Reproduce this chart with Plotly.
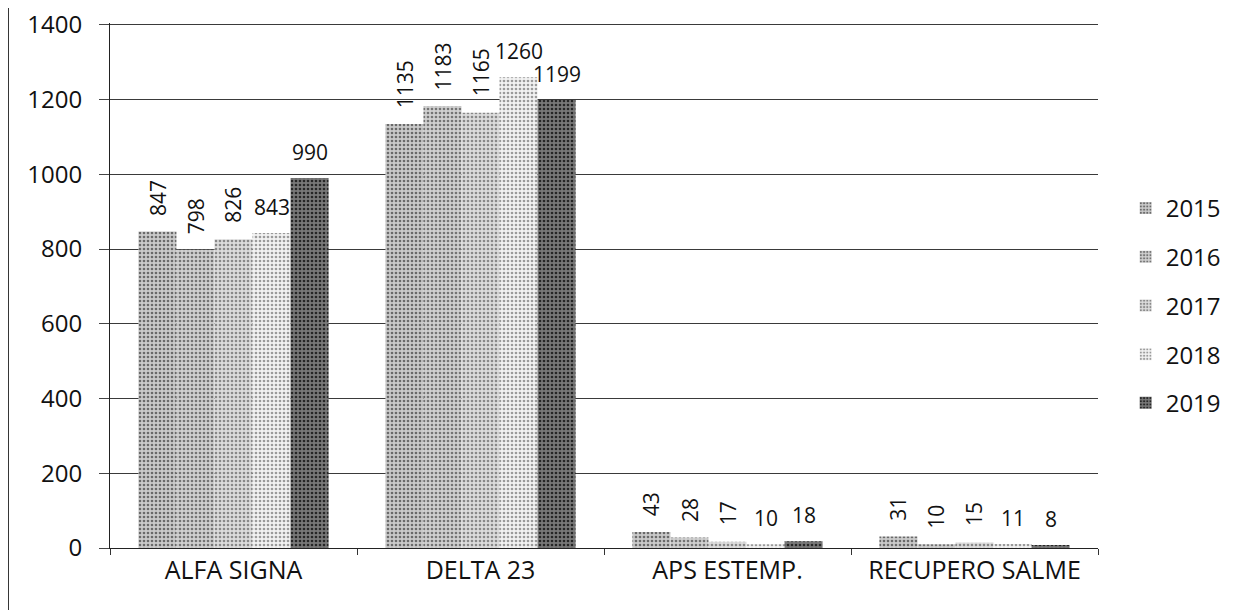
import plotly.graph_objects as go

categories = ["ALFA SIGNA", "DELTA 23", "APS ESTEMP.", "RECUPERO SALME"]
years = ["2015", "2016", "2017", "2018", "2019"]
v2015 = [847, 1135, 43, 31]
v2016 = [798, 1183, 28, 10]
v2017 = [826, 1165, 17, 15]
v2018 = [843, 1260, 10, 11]
v2019 = [990, 1199, 18, 8]
series = [v2015, v2016, v2017, v2018, v2019]
y_ticks = [0, 200, 400, 600, 800, 1000, 1200, 1400]

bg = ["#cacaca", "#d0d0d0", "#dcdcdc", "#f2f2f2", "#787878"]
fg = ["#6a6a6a", "#747474", "#888888", "#9a9a9a", "#262626"]
angles = [-90, -90, -90, 0, 0]
shifts = [14, 14, 14, 10, 10]

FONT = "Open Sans"
W, H = 1238, 610
ML, MR, MT, MB = 102, 148, 15, 70
BARGAP = 0.23
plot_w = W - ML - MR
bar_px = plot_w / len(categories) * (1 - BARGAP) / len(years)

fig = go.Figure()
annotations = []
for i, (yr, vals) in enumerate(zip(years, series)):
    fig.add_trace(go.Bar(
        name=yr, x=categories, y=vals,
        marker=dict(color=bg[i], line=dict(width=0),
                    pattern=dict(shape=".", fgcolor=fg[i], bgcolor=bg[i],
                                 size=4, solidity=0.35, fillmode="replace")),
        legendgroup=yr,
    ))
    for c, v in zip(categories, vals):
        annotations.append(dict(
            x=c, y=v, xref="x", yref="y", text=str(v), showarrow=False,
            textangle=angles[i], xanchor="center", yanchor="bottom",
            xshift=(i - 2) * bar_px, yshift=shifts[i],
            font=dict(family=FONT, size=21, color="#111"),
        ))

fig.update_layout(
    width=W, height=H,
    margin=dict(l=ML, r=MR, t=MT, b=MB, autoexpand=False),
    paper_bgcolor="white", plot_bgcolor="white",
    barmode="group", bargap=BARGAP, bargroupgap=0,
    font=dict(family=FONT, color="#111"),
    showlegend=True,
    legend=dict(x=1.028, xanchor="left", y=0.462, yanchor="middle",
                font=dict(family=FONT, size=24, color="#111"),
                tracegroupgap=14.5, itemwidth=30),
    annotations=annotations,
)
fig.update_yaxes(range=[0, 1405], tickvals=y_ticks, showgrid=True,
                 gridcolor="#3a3a3a", gridwidth=1, showline=True, linecolor="#222",
                 linewidth=1, ticks="outside", ticklen=10, tickcolor="#444",
                 tickfont=dict(family=FONT, size=24, color="#111"),
                 ticklabelstandoff=12, ticklabeloverflow="allow", zeroline=False,
                 automargin=False)
fig.update_xaxes(showline=True, linecolor="#222", linewidth=1,
                 ticks="outside", tickson="boundaries", ticklen=6, tickcolor="#333",
                 tickfont=dict(family=FONT, size=25, color="#111"), automargin=False)
fig.add_shape(type="line", xref="paper", yref="paper",
              x0=-0.103, x1=-0.103, y0=-0.13, y1=1.05,
              line=dict(color="#333", width=1.5))
fig.write_html("out.html")
